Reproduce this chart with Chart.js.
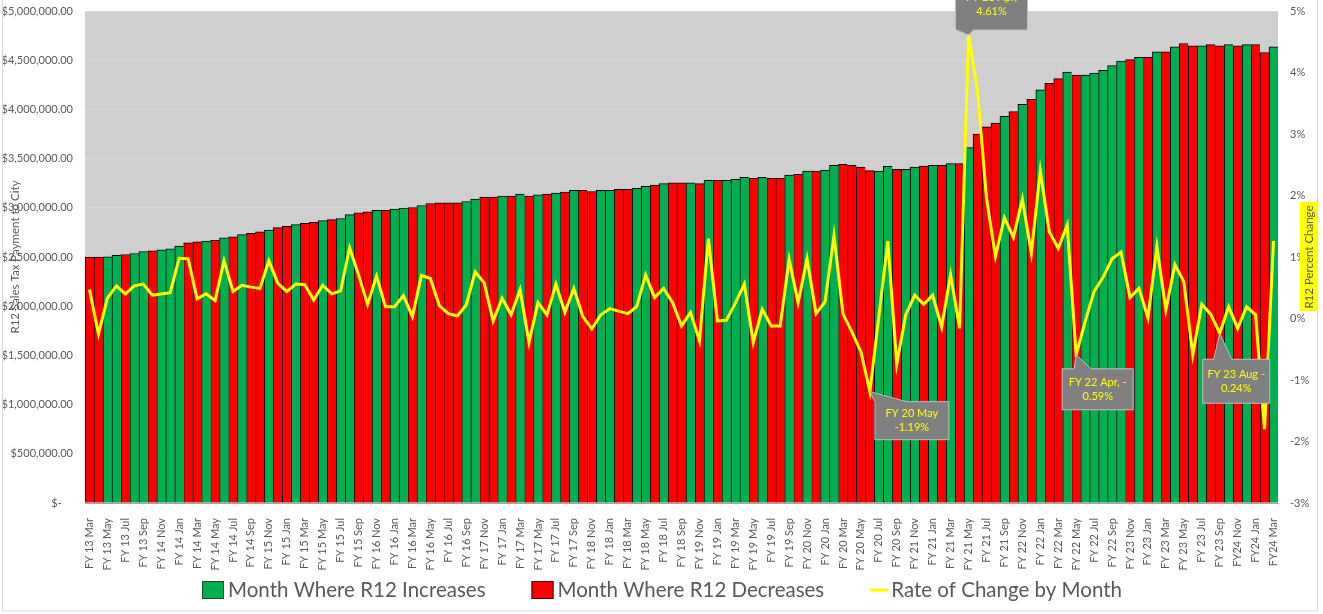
<!DOCTYPE html>
<html>
<head>
<meta charset="utf-8">
<title>R12 Sales Tax Payment to City</title>
<script src="https://cdn.jsdelivr.net/npm/chart.js@4.4.1/dist/chart.umd.min.js"></script>
<style>
  html, body { margin: 0; padding: 0; background: #fff; }
  canvas { display: block; }
</style>
</head>
<body>
<canvas id="r12Chart" width="1323" height="614"></canvas>
<script>
// month categories (fiscal year starts in October)
const fiscalMonths = [
  'FY 13 Mar', 'FY 13 Apr', 'FY 13 May', 'FY 13 Jun', 'FY 13 Jul', 'FY 13 Aug', 'FY 13 Sep',
  'FY 14 Oct', 'FY 14 Nov', 'FY 14 Dec', 'FY 14 Jan', 'FY 14 Feb', 'FY 14 Mar', 'FY 14 Apr', 'FY 14 May', 'FY 14 Jun', 'FY 14 Jul', 'FY 14 Aug', 'FY 14 Sep',
  'FY 15 Oct', 'FY 15 Nov', 'FY 15 Dec', 'FY 15 Jan', 'FY 15 Feb', 'FY 15 Mar', 'FY 15 Apr', 'FY 15 May', 'FY 15 Jun', 'FY 15 Jul', 'FY 15 Aug', 'FY 15 Sep',
  'FY 16 Oct', 'FY 16 Nov', 'FY 16 Dec', 'FY 16 Jan', 'FY 16 Feb', 'FY 16 Mar', 'FY 16 Apr', 'FY 16 May', 'FY 16 Jun', 'FY 16 Jul', 'FY 16 Aug', 'FY 16 Sep',
  'FY 17 Oct', 'FY 17 Nov', 'FY 17 Dec', 'FY 17 Jan', 'FY 17 Feb', 'FY 17 Mar', 'FY 17 Apr', 'FY 17 May', 'FY 17 Jun', 'FY 17 Jul', 'FY 17 Aug', 'FY 17 Sep',
  'FY 18 Oct', 'FY 18 Nov', 'FY 18 Dec', 'FY 18 Jan', 'FY 18 Feb', 'FY 18 Mar', 'FY 18 Apr', 'FY 18 May', 'FY 18 Jun', 'FY 18 Jul', 'FY 18 Aug', 'FY 18 Sep',
  'FY 19 Oct', 'FY 19 Nov', 'FY 19 Dec', 'FY 19 Jan', 'FY 19 Feb', 'FY 19 Mar', 'FY 19 Apr', 'FY 19 May', 'FY 19 Jun', 'FY 19 Jul', 'FY 19 Aug', 'FY 19 Sep',
  'FY 20 Oct', 'FY 20 Nov', 'FY 20 Dec', 'FY 20 Jan', 'FY 20 Feb', 'FY 20 Mar', 'FY 20 Apr', 'FY 20 May', 'FY 20 Jun', 'FY 20 Jul', 'FY 20 Aug', 'FY 20 Sep',
  'FY 21 Oct', 'FY 21 Nov', 'FY 21 Dec', 'FY 21 Jan', 'FY 21 Feb', 'FY 21 Mar', 'FY 21 Apr', 'FY 21 May', 'FY 21 Jun', 'FY 21 Jul', 'FY 21 Aug', 'FY 21 Sep',
  'FY 22 Oct', 'FY 22 Nov', 'FY 22 Dec', 'FY 22 Jan', 'FY 22 Feb', 'FY 22 Mar', 'FY 22 Apr', 'FY 22 May', 'FY 22 Jun', 'FY 22 Jul', 'FY 22 Aug', 'FY 22 Sep',
  'FY 23 Oct', 'FY 23 Nov', 'FY 23 Dec', 'FY 23 Jan', 'FY 23 Feb', 'FY 23 Mar', 'FY 23 Apr', 'FY 23 May', 'FY 23 Jun', 'FY 23 Jul', 'FY 23 Aug', 'FY 23 Sep',
  'FY24 Oct', 'FY24 Nov', 'FY24 Dec', 'FY24 Jan', 'FY24 Feb', 'FY24 Mar'
];

// rolling 12 month sales tax payment ($)
const r12Totals = [
  2500000, 2500000, 2502000, 2518000, 2525000, 2536000, 2556000,
  2563000, 2573000, 2584000, 2610000, 2645000, 2655000, 2662000, 2669000, 2696000, 2706000, 2727000, 2740000,
  2757000, 2774000, 2798000, 2812000, 2829000, 2843000, 2853000, 2870000, 2880000, 2891000, 2931000, 2948000,
  2958000, 2975000, 2975000, 2986000, 2996000, 3003000, 3023000, 3044000, 3050000, 3050000, 3050000, 3064000,
  3088000, 3108000, 3108000, 3120000, 3120000, 3140000, 3120000, 3132000, 3140000, 3149000, 3160000, 3177000,
  3177000, 3166000, 3177000, 3177000, 3187000, 3187000, 3197000, 3218000, 3231000, 3245000, 3255000, 3255000,
  3255000, 3245000, 3279000, 3279000, 3279000, 3289000, 3309000, 3299000, 3309000, 3299000, 3299000, 3333000,
  3340000, 3374000, 3374000, 3384000, 3432000, 3442000, 3432000, 3415000, 3378000, 3374000, 3422000, 3392000,
  3392000, 3415000, 3425000, 3432000, 3432000, 3449000, 3449000, 3613000, 3749000, 3824000, 3862000, 3929000,
  3978000, 4052000, 4103000, 4199000, 4264000, 4312000, 4379000, 4349000, 4349000, 4369000, 4397000, 4445000,
  4492000, 4506000, 4530000, 4530000, 4584000, 4584000, 4635000, 4670000, 4645000, 4645000, 4659000, 4645000,
  4659000, 4645000, 4659000, 4659000, 4578000, 4635000
];

// which legend group each month belongs to ('up' = increases, 'down' = decreases)
const monthTrend = [
  'down', 'down', 'up', 'up', 'down', 'up', 'up',
  'down', 'up', 'up', 'up', 'down', 'down', 'up', 'down', 'up', 'down', 'up', 'down',
  'down', 'up', 'down', 'down', 'up', 'down', 'down', 'up', 'down', 'up', 'up', 'down',
  'down', 'up', 'down', 'up', 'up', 'down', 'up', 'down', 'down', 'down', 'down', 'up',
  'up', 'down', 'down', 'up', 'down', 'up', 'down', 'up', 'down', 'up', 'down', 'up',
  'down', 'down', 'up', 'up', 'down', 'down', 'up', 'up', 'down', 'up', 'down', 'down',
  'up', 'down', 'up', 'down', 'up', 'up', 'up', 'down', 'up', 'down', 'down', 'up',
  'down', 'up', 'down', 'up', 'up', 'down', 'down', 'down', 'down', 'up', 'up', 'down',
  'up', 'up', 'down', 'up', 'down', 'up', 'down', 'up', 'down', 'down', 'down', 'up',
  'down', 'up', 'down', 'up', 'down', 'down', 'up', 'down', 'up', 'up', 'up', 'up',
  'up', 'down', 'up', 'down', 'up', 'down', 'up', 'down', 'down', 'up', 'down', 'down',
  'up', 'down', 'up', 'down', 'down', 'up'
];

// month over month R12 percent change (%)
const rateOfChange = [
  0.47, -0.25, 0.33, 0.53, 0.40, 0.53, 0.56,
  0.38, 0.40, 0.42, 0.98, 0.97, 0.32, 0.40, 0.29, 0.94, 0.44, 0.54, 0.51,
  0.49, 0.94, 0.57, 0.44, 0.56, 0.55, 0.30, 0.54, 0.40, 0.45, 1.15, 0.71,
  0.23, 0.69, 0.19, 0.19, 0.37, 0.03, 0.70, 0.65, 0.21, 0.08, 0.04, 0.22,
  0.76, 0.58, -0.04, 0.33, 0.06, 0.47, -0.39, 0.26, 0.06, 0.56, 0.10, 0.49,
  0.03, -0.17, 0.06, 0.16, 0.12, 0.08, 0.19, 0.71, 0.34, 0.49, 0.26, -0.12,
  0.10, -0.36, 1.30, -0.04, -0.03, 0.25, 0.56, -0.39, 0.15, -0.12, -0.12, 0.96,
  0.26, 0.97, 0.08, 0.27, 1.35, 0.08, -0.22, -0.54, -1.19, 0.03, 1.26, -0.74,
  0.06, 0.38, 0.23, 0.38, -0.14, 0.71, -0.16, 4.61, 3.71, 1.96, 1.01, 1.64,
  1.32, 1.94, 1.06, 2.40, 1.41, 1.14, 1.52, -0.59, -0.05, 0.44, 0.67, 0.97,
  1.08, 0.34, 0.49, 0.01, 1.17, 0.14, 0.88, 0.60, -0.59, 0.23, 0.07, -0.24,
  0.19, -0.16, 0.19, 0.06, -1.80, 1.26
];

// data callouts on the rate line
const callouts = [
  { index: 98, lines: ['FY 21 Apr,', '4.61%'], box: [-13, -57, 72, 52], tail: [1, 18], side: 'bottom' },
  { index: 87, lines: ['FY 20 May', '-1.19%'], box: [5, 10, 74, 38], tail: [0, 32], side: 'top' },
  { index: 110, lines: ['FY 22 Apr, -', '0.59%'], box: [-14, 14, 71, 41], tail: [12, 29], side: 'top' },
  { index: 126, lines: ['FY 23 Aug -', '0.24%'], box: [-17, 26, 67, 44], tail: [11, 29], side: 'top' }
];

const textGray = '#595959';
const upColor = '#00b050';
const downColor = '#ff0000';
const rateColor = '#ffff00';

Chart.defaults.font.family = 'Lato, "Open Sans", sans-serif';
Chart.defaults.color = textGray;

const increases = r12Totals.map((v, i) => (monthTrend[i] === 'up' ? v : null));
const decreases = r12Totals.map((v, i) => (monthTrend[i] === 'down' ? v : null));

const chartDecor = {
  id: 'chartDecor',
  beforeDraw(chart) {
    const { ctx, chartArea: a } = chart;
    ctx.save();
    ctx.fillStyle = '#d0cfd0';
    ctx.fillRect(a.left, a.top, a.right - a.left, a.bottom - a.top);
    ctx.restore();
  },
  afterDatasetsDraw(chart) {
    const ctx = chart.ctx;
    const meta = chart.getDatasetMeta(2);
    ctx.save();
    callouts.forEach(c => {
      const pt = meta.data[c.index];
      const px = pt.x, py = pt.y;
      const bx = px + c.box[0], by = py + c.box[1], w = c.box[2], h = c.box[3];
      ctx.beginPath();
      if (c.side === 'top') {
        ctx.moveTo(bx, by);
        ctx.lineTo(bx + c.tail[0], by);
        ctx.lineTo(px, py);
        ctx.lineTo(bx + c.tail[1], by);
        ctx.lineTo(bx + w, by);
        ctx.lineTo(bx + w, by + h);
        ctx.lineTo(bx, by + h);
      } else {
        ctx.moveTo(bx, by);
        ctx.lineTo(bx + w, by);
        ctx.lineTo(bx + w, by + h);
        ctx.lineTo(bx + c.tail[1], by + h);
        ctx.lineTo(px, py);
        ctx.lineTo(bx + c.tail[0], by + h);
        ctx.lineTo(bx, by + h);
      }
      ctx.closePath();
      ctx.fillStyle = '#808080';
      ctx.fill();
      ctx.strokeStyle = '#bfbfbf';
      ctx.lineWidth = 1;
      ctx.stroke();
      ctx.fillStyle = '#ffff00';
      ctx.font = '11px Lato, sans-serif';
      ctx.textAlign = 'center';
      ctx.textBaseline = 'middle';
      const cy = by + h / 2;
      ctx.fillText(c.lines[0], bx + w / 2, cy - 7);
      ctx.fillText(c.lines[1], bx + w / 2, cy + 7);
    });
    ctx.restore();
  },
  afterDraw(chart) {
    const ctx = chart.ctx;
    const a = chart.chartArea;
    const midY = (a.top + a.bottom) / 2;
    ctx.save();

    // outer chart border
    ctx.strokeStyle = '#d9d9d9';
    ctx.lineWidth = 1;
    ctx.strokeRect(2.5, -1, 1315, 612);

    // left axis title (sits over the tick labels like the original)
    ctx.fillStyle = textGray;
    ctx.font = '11.5px Lato, sans-serif';
    ctx.textAlign = 'center';
    ctx.textBaseline = 'middle';
    ctx.save();
    ctx.translate(15, midY);
    ctx.rotate(-Math.PI / 2);
    ctx.fillText('R12 Sales Tax Payment to City', 0, 0);
    ctx.restore();

    // right axis title with yellow highlight
    ctx.save();
    ctx.translate(1309, midY);
    ctx.rotate(-Math.PI / 2);
    ctx.fillStyle = '#ffff00';
    ctx.fillRect(-54, -9, 109, 18);
    ctx.fillStyle = textGray;
    ctx.fillText('R12 Percent Change', 0, 0);
    ctx.restore();

    // legend
    const items = [
      { kind: 'box', fill: upColor, stroke: '#1e4d2b', text: 'Month Where R12 Increases' },
      { kind: 'box', fill: downColor, stroke: '#4d0000', text: 'Month Where R12 Decreases' },
      { kind: 'line', fill: rateColor, text: 'Rate of Change by Month' }
    ];
    ctx.font = '20.5px Lato, sans-serif';
    ctx.textAlign = 'left';
    const gap = 46;
    const widths = items.map(it => (it.kind === 'box' ? 26 : 21) + ctx.measureText(it.text).width);
    const total = widths.reduce((s, v) => s + v, 0) + gap * (items.length - 1);
    let x = 662 - total / 2;
    const ly = 590;
    items.forEach((it, i) => {
      if (it.kind === 'box') {
        ctx.fillStyle = it.fill;
        ctx.fillRect(x, ly - 9, 22, 18);
        ctx.strokeStyle = it.stroke;
        ctx.lineWidth = 1;
        ctx.strokeRect(x + 0.5, ly - 8.5, 21, 17);
        ctx.fillStyle = textGray;
        ctx.fillText(it.text, x + 26, ly);
      } else {
        ctx.strokeStyle = it.fill;
        ctx.lineWidth = 3;
        ctx.beginPath();
        ctx.moveTo(x, ly);
        ctx.lineTo(x + 18, ly);
        ctx.stroke();
        ctx.fillStyle = textGray;
        ctx.fillText(it.text, x + 21, ly);
      }
      x += widths[i] + gap;
    });
    ctx.restore();
  }
};

// let the plot area reach the top padding instead of reserving room for tick label halves
function fitVertical(width) {
  return s => {
    s.width = width;
    s.paddingTop = 0;
    s.paddingBottom = 0;
  };
}

const ctx = document.getElementById('r12Chart').getContext('2d');
new Chart(ctx, {
  type: 'bar',
  data: {
    labels: fiscalMonths,
    datasets: [
      {
        label: 'Month Where R12 Increases',
        data: increases,
        backgroundColor: upColor,
        borderColor: '#000',
        borderWidth: { top: 1, left: 1, right: 0, bottom: 0 },
        barPercentage: 1,
        categoryPercentage: 1,
        skipNull: true,
        yAxisID: 'y',
        order: 1
      },
      {
        label: 'Month Where R12 Decreases',
        data: decreases,
        backgroundColor: downColor,
        borderColor: '#000',
        borderWidth: { top: 1, left: 1, right: 0, bottom: 0 },
        barPercentage: 1,
        categoryPercentage: 1,
        skipNull: true,
        yAxisID: 'y',
        order: 1
      },
      {
        type: 'line',
        label: 'Rate of Change by Month',
        data: rateOfChange,
        borderColor: rateColor,
        borderWidth: 3,
        pointRadius: 0,
        tension: 0,
        yAxisID: 'y1',
        order: 0
      }
    ]
  },
  options: {
    responsive: false,
    animation: false,
    events: [],
    layout: { padding: { left: 0, right: 0, top: 11, bottom: 0 } },
    plugins: {
      legend: { display: false },
      tooltip: { enabled: false }
    },
    scales: {
      x: {
        grid: { display: false },
        border: { display: true, color: '#a6a6a6', width: 1 },
        ticks: {
          autoSkip: false,
          maxRotation: 90,
          minRotation: 90,
          padding: 7,
          color: textGray,
          font: { size: 11 },
          callback: function (value, index) {
            return index % 2 === 0 ? this.getLabelForValue(value) : '';
          }
        },
        afterFit: s => { s.height = 111; }
      },
      y: {
        position: 'left',
        min: 0,
        max: 5000000,
        grid: { color: '#d9d9d9', drawTicks: false },
        border: { display: false },
        ticks: {
          stepSize: 500000,
          padding: 12,
          color: textGray,
          font: { size: 11 },
          callback: v => (v === 0 ? '$-    ' : '$' + v.toLocaleString('en-US', { minimumFractionDigits: 2 }))
        },
        afterFit: fitVertical(85)
      },
      y1: {
        position: 'right',
        min: -3,
        max: 5,
        grid: { display: false, drawTicks: false },
        border: { display: false },
        ticks: {
          stepSize: 1,
          padding: 12,
          color: textGray,
          font: { size: 11 },
          callback: v => v + '%'
        },
        afterFit: fitVertical(45)
      }
    }
  },
  plugins: [chartDecor]
});
</script>
</body>
</html>
